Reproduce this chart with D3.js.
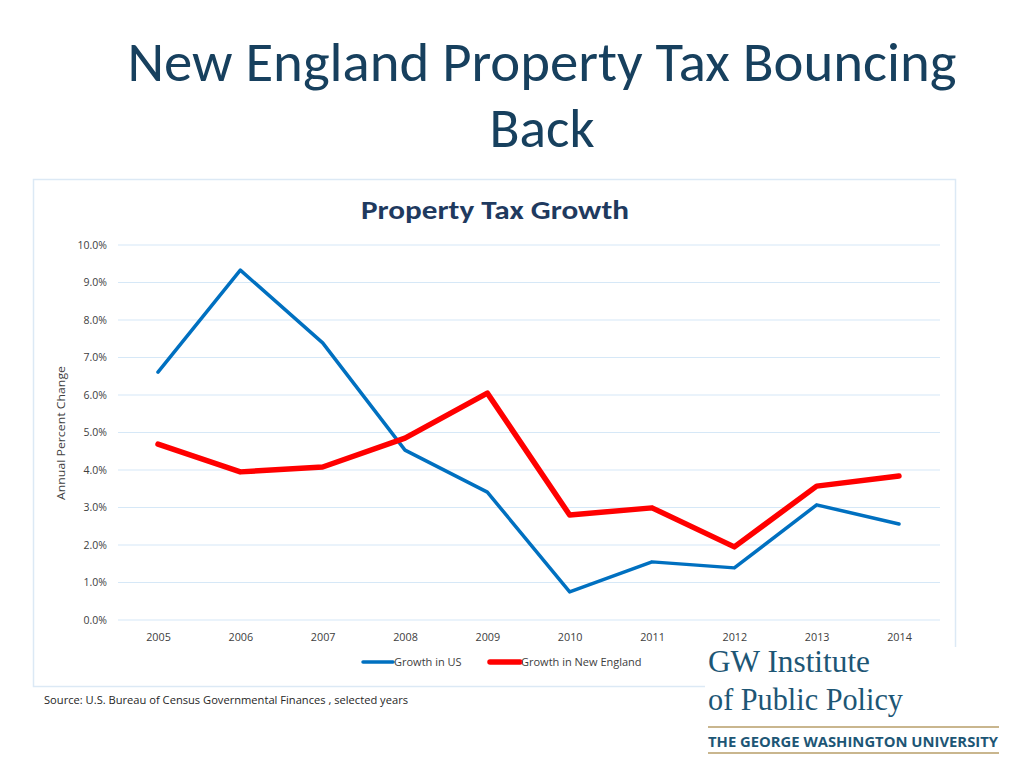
<!DOCTYPE html>
<html><head><meta charset="utf-8">
<script src="https://cdn.jsdelivr.net/npm/d3@7"></script>
<style>body{margin:0;background:#fff;}svg{display:block;}</style>
</head><body>
<svg id="c" width="1024" height="768"></svg>
<script>
const years = [2005,2006,2007,2008,2009,2010,2011,2012,2013,2014];
const usGrowth = [6.61,9.33,7.39,4.53,3.41,0.75,1.55,1.39,3.07,2.56];
const neGrowth = [4.69,3.95,4.08,4.85,6.05,2.80,2.99,1.95,3.57,3.84];
const yTicks = [0,1,2,3,4,5,6,7,8,9,10];
const seriesNames = ["Growth in US","Growth in New England"];
const seriesColors = ["#0070C0","#FF0000"];

const svg = d3.select("#c");
const font = "Carlito, Lato, 'Open Sans', sans-serif";
const small = "'Open Sans', sans-serif";

// slide title
svg.append("text").attr("x",542).attr("y",81).attr("text-anchor","middle")
  .attr("font-family",font).attr("font-size",55).attr("fill","#17405E")
  .attr("textLength",829).attr("lengthAdjust","spacingAndGlyphs").text("New England Property Tax Bouncing");
svg.append("text").attr("x",542).attr("y",147).attr("text-anchor","middle")
  .attr("font-family",font).attr("font-size",55).attr("fill","#17405E")
  .attr("textLength",105).attr("lengthAdjust","spacingAndGlyphs").text("Back");

// chart frame
svg.append("rect").attr("x",33.5).attr("y",179.5).attr("width",922).attr("height",507)
  .attr("fill","#fff").attr("stroke","#DCE9F5").attr("stroke-width",1.5);

svg.append("text").attr("x",495).attr("y",219).attr("text-anchor","middle")
  .attr("font-family",font).attr("font-size",27).attr("font-weight","bold").attr("fill","#1F3A5F")
  .attr("textLength",268).attr("lengthAdjust","spacingAndGlyphs").text("Property Tax Growth");

const x = d3.scalePoint().domain(years).range([158,899]);
const y = d3.scaleLinear().domain([0,10]).range([620,245]);

// gridlines
svg.append("g").selectAll("line").data(yTicks).join("line")
  .attr("x1",118).attr("x2",940).attr("y1",d=>y(d)).attr("y2",d=>y(d))
  .attr("stroke","#D6E8F7").attr("stroke-width",1.2);

const yAxis = svg.append("g").attr("transform","translate(107,0)")
  .call(d3.axisLeft(y).tickValues(yTicks).tickFormat(d=>d.toFixed(1)+"%").tickSize(0).tickPadding(0));
yAxis.select(".domain").remove();
yAxis.selectAll("text").attr("font-family",small).attr("font-size",10.5).attr("fill","#404040");

const xAxis = svg.append("g").attr("transform","translate(0,633)")
  .call(d3.axisBottom(x).tickFormat(d=>String(d)).tickSize(0).tickPadding(0));
xAxis.select(".domain").remove();
xAxis.selectAll("text").attr("font-family",small).attr("font-size",10.8).attr("fill","#404040");

svg.append("text").attr("transform","translate(65,433) rotate(-90)").attr("text-anchor","middle")
  .attr("font-family",small).attr("font-size",11).attr("fill","#404040")
  .attr("textLength",134).attr("lengthAdjust","spacingAndGlyphs").text("Annual Percent Change");

const line = d3.line().x((d,i)=>x(years[i])).y(d=>y(d));
svg.append("path").datum(usGrowth).attr("d",line).attr("fill","none")
  .attr("stroke",seriesColors[0]).attr("stroke-width",3.5).attr("stroke-linecap","round").attr("stroke-linejoin","round");
svg.append("path").datum(neGrowth).attr("d",line).attr("fill","none")
  .attr("stroke",seriesColors[1]).attr("stroke-width",5.5).attr("stroke-linecap","round").attr("stroke-linejoin","round");

// legend
const legX = [363,490];
const legW = [3.5,5.5];
seriesNames.forEach((n,i)=>{
  svg.append("line").attr("x1",legX[i]).attr("x2",legX[i]+30).attr("y1",662).attr("y2",662)
    .attr("stroke",seriesColors[i]).attr("stroke-width",legW[i]).attr("stroke-linecap","round");
  svg.append("text").attr("x",legX[i]+31).attr("y",666).attr("font-family",small).attr("font-size",11)
    .attr("fill","#404040").text(n);
});

// source
svg.append("text").attr("x",44).attr("y",704).attr("font-family",small).attr("font-size",10.5)
  .attr("fill","#262626").attr("textLength",364).attr("lengthAdjust","spacingAndGlyphs")
  .text("Source: U.S. Bureau of Census Governmental Finances , selected years");

// logo
svg.append("rect").attr("x",705).attr("y",647).attr("width",319).attr("height",121).attr("fill","#fff");
const serif = "'Liberation Serif','DejaVu Serif',serif";
svg.append("text").attr("x",708).attr("y",672).attr("font-family",serif).attr("font-size",31)
  .attr("fill","#1D5675").attr("textLength",162).attr("lengthAdjust","spacingAndGlyphs").text("GW Institute");
svg.append("text").attr("x",708).attr("y",710).attr("font-family",serif).attr("font-size",31)
  .attr("fill","#1D5675").attr("textLength",195).attr("lengthAdjust","spacingAndGlyphs").text("of Public Policy");
svg.append("line").attr("x1",708).attr("x2",999).attr("y1",727).attr("y2",727).attr("stroke","#C9B68E").attr("stroke-width",2);
svg.append("line").attr("x1",708).attr("x2",999).attr("y1",753).attr("y2",753).attr("stroke","#C9B68E").attr("stroke-width",2);
svg.append("text").attr("x",708).attr("y",747).attr("font-family","'Open Sans',sans-serif").attr("font-size",15)
  .attr("font-weight","bold").attr("fill","#1D5675").attr("textLength",290).attr("lengthAdjust","spacingAndGlyphs")
  .text("THE GEORGE WASHINGTON UNIVERSITY");
</script>
</body></html>
